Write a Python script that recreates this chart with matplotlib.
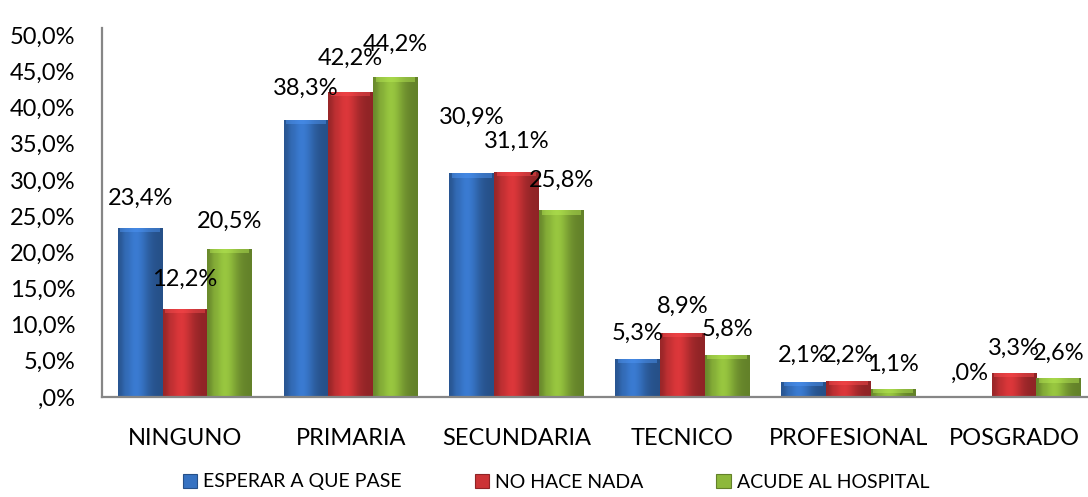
import numpy as np
import matplotlib
matplotlib.use("Agg")
import matplotlib.pyplot as plt
from matplotlib.patches import Rectangle
from matplotlib.colors import to_rgb

categories = ["NINGUNO", "PRIMARIA", "SECUNDARIA", "TECNICO", "PROFESIONAL", "POSGRADO"]
series_names = ["ESPERAR A QUE PASE", "NO HACE NADA", "ACUDE AL HOSPITAL"]
esperar = [23.4, 38.3, 30.9, 5.3, 2.1, 0.0]
no_hace = [12.2, 42.2, 31.1, 8.9, 2.2, 3.3]
acude = [20.5, 44.2, 25.8, 5.8, 1.1, 2.6]
value_labels = [
    ["23,4%", "38,3%", "30,9%", "5,3%", "2,1%", ",0%"],
    ["12,2%", "42,2%", "31,1%", "8,9%", "2,2%", "3,3%"],
    ["20,5%", "44,2%", "25,8%", "5,8%", "1,1%", "2,6%"],
]
yticks = [0, 5, 10, 15, 20, 25, 30, 35, 40, 45, 50]
ytick_labels = [",0%", "5,0%", "10,0%", "15,0%", "20,0%", "25,0%",
                "30,0%", "35,0%", "40,0%", "45,0%", "50,0%"]

# styling / label placement (pixel offsets of label centres above bar tops)
colors = ["#3672C2", "#CC3336", "#8DB83B"]
label_dy = [
    [30.6, 32.7, 58, 26.6, 27.8, 25],
    [30.7, 34.5, 32, 27.6, 27, 26],
    [28.6, 34, 31, 27, 26, 26],
]

plt.rcParams['font.family'] = ['Lato', 'DejaVu Sans']

W, H = 1088, 497
fig = plt.figure(figsize=(W / 100, H / 100), dpi=100)
left, right, bottom, top = 102, 1087, 397, 28
ax = fig.add_axes([left / W, (H - bottom) / H, (right - left) / W, (bottom - top) / H])

x = np.arange(len(categories))
bw = 0.27
data = [esperar, no_hace, acude]

def shade(base, n=64):
    r = np.array(to_rgb(base))
    t = np.linspace(0, 1, n)
    f = 0.70 + 0.38 * np.exp(-((t - 0.4) / 0.28) ** 2) + 0.05 * np.exp(-((t - 0.15) / 0.06) ** 2)
    col = np.clip(r[None, :] * f[:, None], 0, 1)
    return col[None, :, :]

for i, (vals, c) in enumerate(zip(data, colors)):
    bars = ax.bar(x + (i - 1) * bw, vals, bw, color=c, zorder=2, linewidth=0)
    grad = shade(c)
    light = tuple(np.clip(np.array(to_rgb(c)) * 1.2 + 0.06, 0, 1))
    for b, lab, dy in zip(bars, value_labels[i], label_dy[i]):
        bx, bwid, bh = b.get_x(), b.get_width(), b.get_height()
        if bh > 0:
            im = ax.imshow(grad, extent=[bx, bx + bwid, 0, bh], aspect='auto',
                           interpolation='bicubic', zorder=3)
            im.set_clip_path(b)
            cap = min(0.6, bh * 0.5)
            ax.add_patch(Rectangle((bx + bwid * 0.06, bh - cap), bwid * 0.88, cap,
                                   facecolor=light, alpha=0.45, linewidth=0, zorder=4))
        ax.annotate(lab, xy=(bx + bwid / 2, bh), xytext=(0, dy - 8),
                    textcoords='offset pixels', ha='center', va='baseline',
                    fontsize=17, color='black', zorder=5)

ax.set_xlim(-0.5, 5.5 - 10 / 166)
ax.set_ylim(0, 51)
ax.set_yticks(yticks)
ax.set_yticklabels(ytick_labels)
ax.set_xticks(x)
ax.set_xticklabels(categories)
ax.tick_params(axis='both', length=0, labelsize=17, colors='black')
ax.tick_params(axis='y', pad=19)
ax.tick_params(axis='x', pad=22)
for s in ['top', 'right']:
    ax.spines[s].set_visible(False)
for s in ['left', 'bottom']:
    ax.spines[s].set_color('#868686')
    ax.spines[s].set_linewidth(1.6)
    ax.spines[s].set_zorder(6)

handles = [Rectangle((0, 0), 1, 1, facecolor=c, edgecolor=tuple(np.array(to_rgb(c)) * 0.7), linewidth=0.8)
           for c in colors]
fig.legend(handles, series_names, loc='center', bbox_to_anchor=(556 / W, 15 / H), ncol=3,
           frameon=False, fontsize=14,
           handlelength=0.75, handleheight=0.75, handletextpad=0.3, columnspacing=3.75)

fig.savefig("out.png", dpi=100)
